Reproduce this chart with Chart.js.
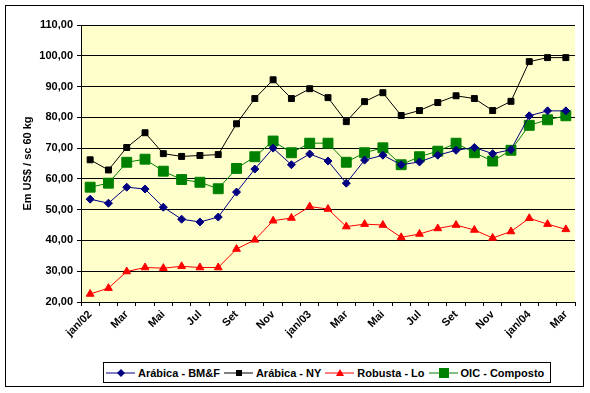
<!DOCTYPE html>
<html>
<head>
<meta charset="utf-8">
<script src="https://cdn.jsdelivr.net/npm/chart.js@4.4.1/dist/chart.umd.min.js"></script>
<style>
  body { margin: 0; background: #fff; font-family: "Liberation Sans", Arial, sans-serif; }
  #wrap { position: relative; width: 590px; height: 393px; }
  #frame { position: absolute; left: 5px; top: 5px; width: 577px; height: 380px; border: 1px solid #000; pointer-events: none; }
  #legend { position: absolute; left: 103px; top: 362px; width: 446px; height: 19px; border: 1px solid #000; background: #fff;
    display: flex; align-items: center; font-size: 11px; font-weight: bold; color: #000; white-space: nowrap; }
  .item { display: flex; align-items: center; flex: none; margin-left: 2px; margin-right: 2px; }
  .item svg { margin-right: 3px; flex: none; }
</style>
</head>
<body>
<div id="wrap">
  <canvas id="coffeeChart" width="590" height="393"></canvas>
  <div id="frame"></div>
  <div id="legend"></div>
</div>
<script>
// Months (jan/02 - mar/04)
const months = ['jan/02', 'Fev', 'Mar', 'Abr', 'Mai', 'Jun', 'Jul', 'Ago', 'Set', 'Out', 'Nov', 'Dez',
  'jan/03', 'Fev', 'Mar', 'Abr', 'Mai', 'Jun', 'Jul', 'Ago', 'Set', 'Out', 'Nov', 'Dez',
  'jan/04', 'Fev', 'Mar'];

// Prices in US$ / sc 60 kg
const arabicaBMF = [53.4, 52.1, 57.3, 56.7, 50.8, 46.9, 46.0, 47.6, 55.7, 63.2, 70.0, 64.6,
  68.1, 65.8, 58.6, 66.1, 67.7, 64.6, 65.5, 67.7, 69.3, 70.2, 68.2, 69.5, 80.5, 82.1, 82.1];
const arabicaNY = [66.2, 62.9, 70.2, 75.0, 68.2, 67.3, 67.6, 67.9, 77.9, 86.1, 92.2, 86.1,
  89.3, 86.4, 78.6, 85.1, 88.0, 80.6, 82.2, 84.8, 87.0, 86.1, 82.2, 85.2, 98.1, 99.4, 99.4];
const robustaLo = [22.6, 24.5, 29.9, 31.2, 31.0, 31.6, 31.2, 31.2, 37.2, 40.2, 46.4, 47.3,
  51.0, 50.2, 44.5, 45.3, 45.0, 41.0, 42.1, 43.9, 45.0, 43.4, 40.8, 42.9, 47.2, 45.3, 43.6];
const oicComposto = [57.3, 58.6, 65.4, 66.4, 62.5, 59.8, 58.9, 56.8, 63.4, 67.2, 72.3, 68.5,
  71.6, 71.6, 65.4, 68.5, 70.1, 64.6, 67.2, 69.0, 71.6, 68.5, 65.8, 69.3, 77.4, 79.2, 80.5];

const seriesNames = ['Arábica - BM&F', 'Arábica - NY', 'Robusta - Lo', 'OIC - Composto'];

const font = { family: '"Liberation Sans", Arial, sans-serif', size: 11, weight: 'bold' };

// plot area background
const plotBg = {
  id: 'plotBg',
  beforeDraw(chart) {
    const { ctx, chartArea: a } = chart;
    ctx.save();
    ctx.fillStyle = '#FFFFCC';
    ctx.fillRect(a.left, a.top, a.right - a.left, a.bottom - a.top);
    ctx.restore();
  }
};

function makeSet(label, data, color, style, radius) {
  return {
    label: label,
    data: data,
    borderColor: color,
    backgroundColor: color,
    borderWidth: 1,
    pointStyle: style,
    pointRadius: radius,
    pointHoverRadius: radius,
    pointBorderWidth: 1,
    tension: 0
  };
}

const datasets = [
  makeSet(seriesNames[0], arabicaBMF, '#000080', 'rectRot', 4),
  makeSet(seriesNames[1], arabicaNY, '#000000', 'rect', 4.2),
  makeSet(seriesNames[2], robustaLo, '#FF0000', 'triangle', 4.5),
  makeSet(seriesNames[3], oicComposto, '#008000', 'rect', 7)
];

const ctx = document.getElementById('coffeeChart').getContext('2d');
new Chart(ctx, {
  type: 'line',
  data: { labels: months, datasets: datasets },
  options: {
    responsive: false,
    animation: false,
    layout: { padding: { left: 0, right: 15, top: 25, bottom: 0 } },
    plugins: { legend: { display: false }, tooltip: { enabled: false } },
    scales: {
      x: {
        offset: true,
        grid: { offset: true, drawOnChartArea: false, color: '#000', tickLength: 4 },
        border: { color: '#000', width: 1 },
        ticks: {
          autoSkip: false,
          maxRotation: 45,
          minRotation: 45,
          color: '#000',
          font: font,
          padding: 2,
          callback: function (v, i) { return i % 2 === 0 ? months[i] : ''; }
        },
        afterFit: function (s) { s.height = 91; }
      },
      y: {
        min: 20,
        max: 110,
        grid: { color: '#000', tickLength: 4 },
        border: { color: '#000', width: 1 },
        ticks: {
          stepSize: 10,
          color: '#000',
          font: font,
          padding: 4,
          callback: function (v) { return v.toFixed(2).replace('.', ','); }
        },
        title: { display: true, text: 'Em US$ / sc 60 kg', color: '#000', font: font, padding: { top: 21, bottom: 0 } },
        afterFit: function (s) { s.width = 81; }
      }
    }
  },
  plugins: [plotBg]
});

// Legend (line + marker like the spreadsheet one)
const markers = [
  '<polygon points="15,1 19,5 15,9 11,5" fill="#000080"/>',
  '<rect x="12" y="2" width="6" height="6" fill="#000"/>',
  '<polygon points="15,1 19,8 11,8" fill="#FF0000"/>',
  '<rect x="10" y="0" width="10" height="10" fill="#008000"/>'
];
const colors = ['#000080', '#000000', '#FF0000', '#008000'];
const legend = document.getElementById('legend');
seriesNames.forEach(function (name, i) {
  const item = document.createElement('div');
  item.className = 'item';
  item.innerHTML = '<svg width="29" height="10"><line x1="0" y1="5" x2="29" y2="5" stroke="' + colors[i] + '" stroke-width="1"/>' +
    markers[i] + '</svg><span>' + name.replace('&', '&amp;') + '</span>';
  legend.appendChild(item);
});
</script>
</body>
</html>
